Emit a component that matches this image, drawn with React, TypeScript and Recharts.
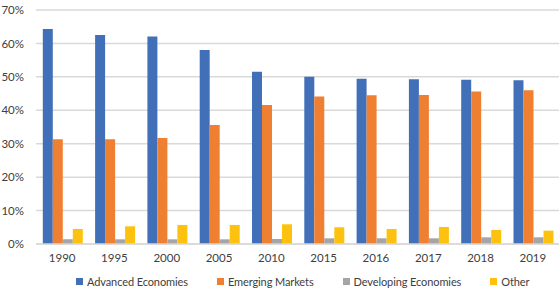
import { BarChart, Bar, XAxis, YAxis, CartesianGrid, Legend } from 'recharts';

// years along the x axis
const years = ['1990', '1995', '2000', '2005', '2010', '2015', '2016', '2017', '2018', '2019'];

// share of total, in percent
const advanced = [64.3, 62.5, 62.1, 58.0, 51.5, 50.0, 49.4, 49.3, 49.1, 49.0];
const emerging = [31.3, 31.3, 31.7, 35.6, 41.6, 44.1, 44.5, 44.6, 45.6, 46.0];
const developing = [1.4, 1.4, 1.4, 1.4, 1.5, 1.7, 1.7, 1.7, 2.0, 2.0];
const other = [4.5, 5.3, 5.7, 5.7, 5.9, 5.0, 4.5, 5.1, 4.2, 4.0];

const yTicks = [0, 10, 20, 30, 40, 50, 60, 70];

const series = [
  { key: 'advanced', name: 'Advanced Economies', color: '#4170B8' },
  { key: 'emerging', name: 'Emerging Markets', color: '#EF7F31' },
  { key: 'developing', name: 'Developing Economies', color: '#A5A5A7' },
  { key: 'other', name: 'Other', color: '#FDC20F' },
];

const data = years.map((year, i) => ({
  year,
  advanced: advanced[i],
  emerging: emerging[i],
  developing: developing[i],
  other: other[i],
}));

const FONT = 'Lato, "Noto Sans", sans-serif';

// Legend drawn as a flat row of small squares with labels
const LegendRow = () => (
  <div
    style={{
      display: 'flex',
      alignItems: 'center',
      fontFamily: FONT,
      fontSize: 11,
      letterSpacing: -0.1,
      color: '#404040',
      paddingLeft: 76,
      height: 25,
      whiteSpace: 'nowrap',
    }}
  >
    {series.map((s) => (
      <div key={s.key} style={{ display: 'flex', alignItems: 'center', marginRight: 29, flexShrink: 0 }}>
        <span style={{ width: 7, height: 7, background: s.color, display: 'inline-block', marginRight: 4 }} />
        <span>{s.name}</span>
      </div>
    ))}
  </div>
);

const App = () => (
  <div style={{ position: 'absolute', left: 0, top: 0 }}>
    <BarChart
      width={559}
      height={294}
      data={data}
      margin={{ top: 10, right: 0, bottom: 0, left: 0 }}
      barCategoryGap="13%"
      barGap={0}
    >
      <CartesianGrid vertical={false} stroke="#D9D9D9" strokeWidth={1.5} />
      <XAxis
        dataKey="year"
        axisLine={{ stroke: '#D9D9D9', strokeWidth: 1.5 }}
        tickLine={false}
        tickSize={0}
        tickMargin={10}
        height={25}
        tick={{ fill: '#404040', fontSize: 11.5, fontFamily: FONT }}
      />
      <YAxis
        domain={[0, 70]}
        ticks={yTicks}
        tickFormatter={(v: number) => `${v}%`}
        axisLine={false}
        tickLine={false}
        tickSize={0}
        tickMargin={12}
        width={36}
        tick={{ fill: '#404040', fontSize: 11.5, fontFamily: FONT }}
      />
      <Legend verticalAlign="bottom" height={25} content={() => <LegendRow />} />
      {series.map((s) => (
        <Bar key={s.key} dataKey={s.key} name={s.name} fill={s.color} isAnimationActive={false} />
      ))}
    </BarChart>
  </div>
);

export default App;
